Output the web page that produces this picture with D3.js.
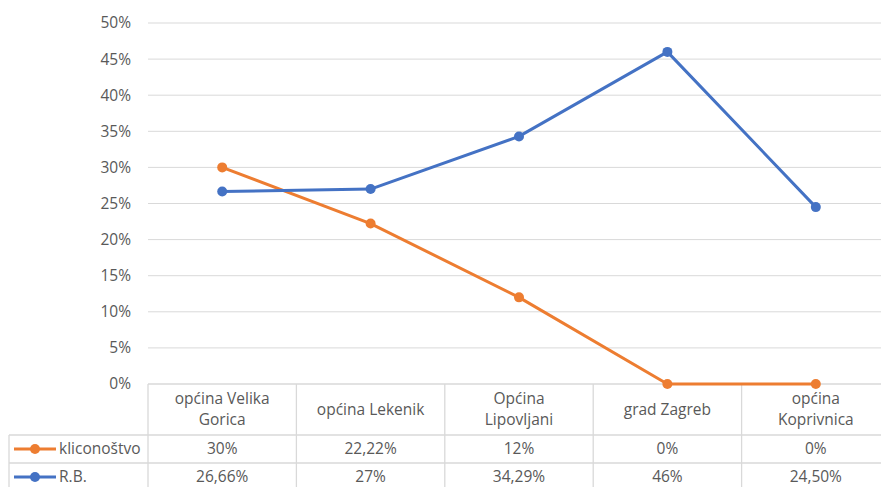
<!DOCTYPE html>
<html>
<head>
<meta charset="utf-8">
<script src="https://cdn.jsdelivr.net/npm/d3@7"></script>
<style>
  html, body { margin: 0; padding: 0; background: #fff; overflow: hidden; }
  svg { display: block; font-family: "Open Sans", Lato, sans-serif; }
</style>
</head>
<body>
<div id="container"></div>
<script>
const width = 881, height = 487;

// Data
const categories = [
  ["općina Velika", "Gorica"],
  ["općina Lekenik"],
  ["Općina", "Lipovljani"],
  ["grad Zagreb"],
  ["općina", "Koprivnica"],
];
const seriesNames = ["kliconoštvo", "R.B."];
const seriesColors = ["#ED7D31", "#4472C4"];
const klicValues = [30, 22.22, 12, 0, 0];
const rbValues = [26.66, 27, 34.29, 46, 24.5];
const klicLabels = ["30%", "22,22%", "12%", "0%", "0%"];
const rbLabels = ["26,66%", "27%", "34,29%", "46%", "24,50%"];
const yTicks = [0, 5, 10, 15, 20, 25, 30, 35, 40, 45, 50];

const series = [
  { name: seriesNames[0], color: seriesColors[0], values: klicValues, labels: klicLabels },
  { name: seriesNames[1], color: seriesColors[1], values: rbValues, labels: rbLabels },
];

const plot = { left: 148, right: 890, top: 23, bottom: 384 };
const tableLeft = 9;
const headerBottom = 435;
const rowH = 28;
const ink = "#595959";
const gridColor = "#D9D9D9";
const fs = "15.5px";

const svg = d3.select("#container").append("svg")
  .attr("width", width).attr("height", height);

const x = d3.scaleBand().domain(d3.range(categories.length))
  .range([plot.left, plot.right]);
const y = d3.scaleLinear().domain([0, 50]).range([plot.bottom, plot.top]);

// gridlines
svg.append("g").selectAll("line").data(yTicks.filter(d => d > 0)).join("line")
  .attr("x1", plot.left).attr("x2", plot.right)
  .attr("y1", d => y(d)).attr("y2", d => y(d))
  .attr("stroke", gridColor).attr("stroke-width", 1);

// y labels
svg.append("g").selectAll("text").data(yTicks).join("text")
  .attr("x", 131).attr("y", d => y(d))
  .attr("dy", "0.35em")
  .attr("text-anchor", "end")
  .attr("fill", ink)
  .style("font-size", fs)
  .text(d => d + "%");

// data table grid
const tg = svg.append("g").attr("stroke", gridColor).attr("stroke-width", 1.3);
const rowLines = [plot.bottom, headerBottom, headerBottom + rowH, headerBottom + 2 * rowH];
rowLines.forEach((ry, i) => {
  tg.append("line")
    .attr("x1", i === 0 ? plot.left : tableLeft).attr("x2", plot.right)
    .attr("y1", ry).attr("y2", ry);
});
d3.range(categories.length + 1).forEach(i => {
  const cx = i < categories.length ? x(i) : plot.right;
  tg.append("line").attr("x1", cx).attr("x2", cx)
    .attr("y1", plot.bottom).attr("y2", height + 5);
});
tg.append("line").attr("x1", tableLeft).attr("x2", tableLeft)
  .attr("y1", headerBottom).attr("y2", height + 5);

// header labels
categories.forEach((lines, i) => {
  const cx = x(i) + x.bandwidth() / 2;
  const cy = (plot.bottom + headerBottom) / 2;
  const t = svg.append("text")
    .attr("x", cx)
    .attr("text-anchor", "middle")
    .attr("fill", ink)
    .style("font-size", fs);
  lines.forEach((ln, j) => {
    t.append("tspan").attr("x", cx)
      .attr("y", cy + (j - (lines.length - 1) / 2) * 21)
      .attr("dy", "0.35em")
      .text(ln);
  });
});

// table rows
series.forEach((s, si) => {
  const ry = headerBottom + si * rowH + rowH / 2;
  svg.append("line")
    .attr("x1", 14).attr("x2", 56).attr("y1", ry).attr("y2", ry)
    .attr("stroke", s.color).attr("stroke-width", 3);
  svg.append("circle").attr("cx", 35).attr("cy", ry).attr("r", 5).attr("fill", s.color);
  svg.append("text").attr("x", 59).attr("y", ry).attr("dy", "0.35em")
    .attr("fill", ink).style("font-size", fs).text(s.name);
  s.labels.forEach((lb, i) => {
    svg.append("text")
      .attr("x", x(i) + x.bandwidth() / 2).attr("y", ry).attr("dy", "0.35em")
      .attr("text-anchor", "middle")
      .attr("fill", ink).style("font-size", fs).text(lb);
  });
});

// lines
const lineGen = d3.line()
  .x((d, i) => x(i) + x.bandwidth() / 2)
  .y(d => y(d));

series.forEach(s => {
  svg.append("path").datum(s.values)
    .attr("fill", "none").attr("stroke", s.color)
    .attr("stroke-width", 3).attr("stroke-linejoin", "round")
    .attr("d", lineGen);
  svg.append("g").selectAll("circle").data(s.values).join("circle")
    .attr("cx", (d, i) => x(i) + x.bandwidth() / 2)
    .attr("cy", d => y(d))
    .attr("r", 5)
    .attr("fill", s.color);
});
</script>
</body>
</html>
